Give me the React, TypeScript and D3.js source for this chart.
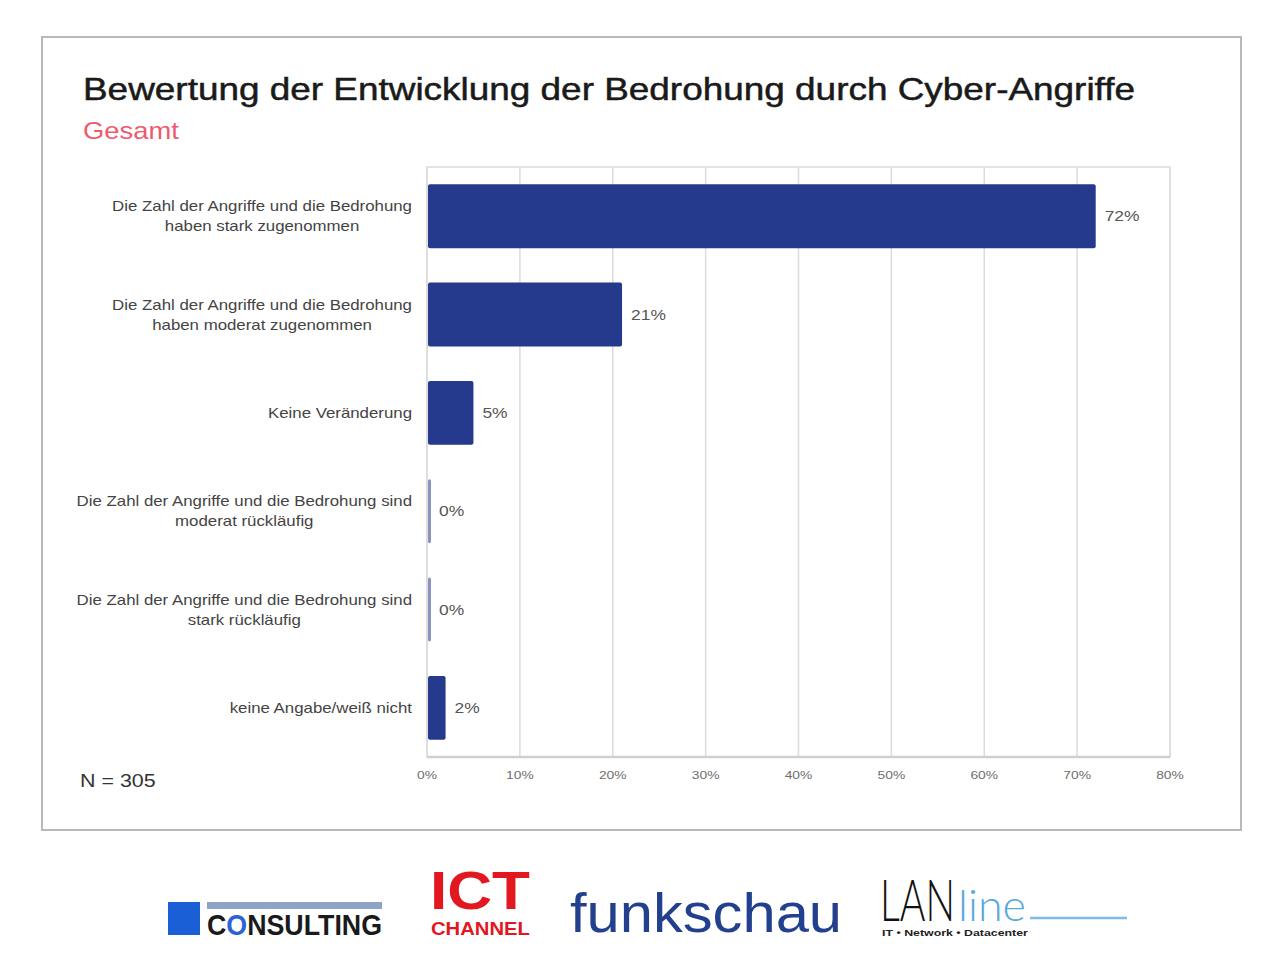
import React, { useEffect, useRef } from "react";
import * as d3 from "d3";

const titleText = "Bewertung der Entwicklung der Bedrohung durch Cyber-Angriffe";
const subtitleText = "Gesamt";
const noteText = "N = 305";

const categories: string[][] = [
  ["Die Zahl der Angriffe und die Bedrohung", "haben stark zugenommen"],
  ["Die Zahl der Angriffe und die Bedrohung", "haben moderat zugenommen"],
  ["Keine Veränderung"],
  ["Die Zahl der Angriffe und die Bedrohung sind", "moderat rückläufig"],
  ["Die Zahl der Angriffe und die Bedrohung sind", "stark rückläufig"],
  ["keine Angabe/weiß nicht"],
];
const values = [72, 21, 5, 0, 0, 2];
const valueLabels = ["72%", "21%", "5%", "0%", "0%", "2%"];
const tickValues = [0, 10, 20, 30, 40, 50, 60, 70, 80];
const tickLabels = ["0%", "10%", "20%", "30%", "40%", "50%", "60%", "70%", "80%"];

const W = 1280;
const H = 978;
const plot = { left: 427, right: 1170, top: 167, bottom: 757 };
const FONT = "'Liberation Sans', Arial, Helvetica, sans-serif";
const STRETCH = 1.17;

type Sel = d3.Selection<SVGTextElement, any, any, any>;
function stretch(t: Sel, f = STRETCH) {
  t.each(function () {
    const n = this as SVGTextElement;
    const w = n.getComputedTextLength();
    d3.select(n).attr("textLength", w * f).attr("lengthAdjust", "spacingAndGlyphs");
  });
  return t;
}

export default function App() {
  const ref = useRef<SVGSVGElement | null>(null);

  useEffect(() => {
    const svg = d3.select(ref.current);
    svg.selectAll("*").remove();

    svg.append("rect").attr("x", 0).attr("y", 0).attr("width", W).attr("height", H).attr("fill", "#fff");
    svg.append("rect")
      .attr("x", 42).attr("y", 37).attr("width", 1199).attr("height", 793)
      .attr("fill", "#fff").attr("stroke", "#b9b9b9").attr("stroke-width", 2);

    // title
    svg.append("text").attr("x", 83).attr("y", 100)
      .attr("font-family", FONT).attr("font-size", 31.5).attr("fill", "#1a1a1a")
      .attr("stroke", "#1a1a1a").attr("stroke-width", 0.5)
      .attr("textLength", 1052).attr("lengthAdjust", "spacingAndGlyphs")
      .text(titleText);
    stretch(svg.append("text").attr("x", 83).attr("y", 139)
      .attr("font-family", FONT).attr("font-size", 24).attr("fill", "#ee5a6e")
      .text(subtitleText) as any, 1.14);

    const x = d3.scaleLinear().domain([0, 80]).range([plot.left, plot.right]);
    const y = d3.scaleBand<number>()
      .domain(d3.range(categories.length))
      .range([plot.top, plot.bottom])
      .paddingInner(0.35).paddingOuter(0.175);

    const g = svg.append("g");
    g.append("rect")
      .attr("x", plot.left).attr("y", plot.top)
      .attr("width", plot.right - plot.left).attr("height", plot.bottom - plot.top)
      .attr("fill", "none").attr("stroke", "#dcdcdc").attr("stroke-width", 1.5);
    g.selectAll("line.grid").data(tickValues).join("line")
      .attr("class", "grid")
      .attr("x1", (d) => x(d)).attr("x2", (d) => x(d))
      .attr("y1", plot.top).attr("y2", plot.bottom)
      .attr("stroke", "#dcdcdc").attr("stroke-width", 1.5);
    g.append("line")
      .attr("x1", plot.left).attr("x2", plot.right)
      .attr("y1", plot.bottom).attr("y2", plot.bottom)
      .attr("stroke", "#cfcfcf").attr("stroke-width", 2.5);

    // tick labels
    stretch(g.selectAll("text.tick").data(tickValues).join("text")
      .attr("class", "tick")
      .attr("x", (d) => x(d)).attr("y", 779)
      .attr("text-anchor", "middle")
      .attr("font-family", FONT).attr("font-size", 11.5).attr("fill", "#6e6e6e")
      .text((_, i) => tickLabels[i]) as any, 1.2);

    // bars
    g.selectAll("rect.bar").data(values).join("rect")
      .attr("class", "bar")
      .attr("x", x(0) + 1)
      .attr("y", (_, i) => y(i)!)
      .attr("height", y.bandwidth())
      .attr("width", (d) => Math.max(x(d) - x(0) - 1, 3))
      .attr("rx", 2)
      .attr("fill", (d) => (d === 0 ? "#8a93c4" : "#253a8c"));

    // value labels
    stretch(g.selectAll("text.val").data(values).join("text")
      .attr("class", "val")
      .attr("x", (d) => Math.max(x(d), x(0) + 3) + 9)
      .attr("y", (_, i) => y(i)! + y.bandwidth() / 2 + 5)
      .attr("font-family", FONT).attr("font-size", 14.5).attr("fill", "#555")
      .text((_, i) => valueLabels[i]) as any, 1.2);

    // category labels
    categories.forEach((lines, i) => {
      const cy = y(i)! + y.bandwidth() / 2;
      const grp = g.append("g");
      const texts = lines.map((ln, j) =>
        grp.append("text")
          .attr("x", 0)
          .attr("y", cy + 5 + (j - (lines.length - 1) / 2) * 20)
          .attr("text-anchor", "middle")
          .attr("font-family", FONT).attr("font-size", 14.5).attr("fill", "#444")
          .text(ln)
      );
      const widths = texts.map((t) => (t.node() as SVGTextElement).getComputedTextLength() * 1.16);
      const maxW = d3.max(widths) || 0;
      texts.forEach((t, j) =>
        t.attr("x", 412 - maxW / 2).attr("textLength", widths[j]).attr("lengthAdjust", "spacingAndGlyphs")
      );
    });

    // N note
    stretch(svg.append("text").attr("x", 80).attr("y", 787)
      .attr("font-family", FONT).attr("font-size", 18).attr("fill", "#333")
      .text(noteText) as any, 1.19);

    // ---- logos ----
    const logos = svg.append("g");
    logos.append("rect").attr("x", 168).attr("y", 902).attr("width", 32).attr("height", 33).attr("fill", "#1b5fd6");
    logos.append("rect").attr("x", 207).attr("y", 902).attr("width", 175).attr("height", 7).attr("fill", "#8ea3c6");
    const cons = logos.append("text").attr("x", 207).attr("y", 935)
      .attr("font-family", FONT).attr("font-weight", "bold").attr("font-size", 30)
      .attr("textLength", 175).attr("lengthAdjust", "spacingAndGlyphs").attr("fill", "#1a1a1a");
    cons.append("tspan").text("C");
    cons.append("tspan").attr("fill", "#2a62d8").text("O");
    cons.append("tspan").text("NSULTING");

    logos.append("text").attr("x", 430).attr("y", 909)
      .attr("font-family", FONT).attr("font-weight", "bold").attr("font-size", 54)
      .attr("textLength", 100).attr("lengthAdjust", "spacingAndGlyphs").attr("fill", "#e3171f")
      .text("ICT");
    logos.append("text").attr("x", 431).attr("y", 935)
      .attr("font-family", FONT).attr("font-weight", "bold").attr("font-size", 19)
      .attr("textLength", 99).attr("lengthAdjust", "spacingAndGlyphs").attr("fill", "#e3171f")
      .text("CHANNEL");

    logos.append("text").attr("x", 570).attr("y", 932)
      .attr("font-family", FONT).attr("font-size", 56)
      .attr("textLength", 272).attr("lengthAdjust", "spacingAndGlyphs").attr("fill", "#23408e")
      .text("funkschau");

    // LANline: horizontally scaled groups so boxes match the drawn glyphs
    const fitText = (txt: string, x0: number, y0: number, targetW: number, size: number, fill: string, family: string, weight: any) => {
      const grp = logos.append("g");
      const t = grp.append("text").attr("x", 0).attr("y", 0)
        .attr("font-family", family).attr("font-weight", weight).attr("font-size", size)
        .attr("fill", fill).text(txt);
      const w = (t.node() as SVGTextElement).getComputedTextLength() || targetW;
      grp.attr("transform", `translate(${x0},${y0}) scale(${targetW / w},1)`);
    };
    fitText("LAN", 880, 921, 75, 58, "#111", "Lato, 'Open Sans', sans-serif", 300);
    fitText("line", 958, 921, 68, 44, "#5aa8dc", "Lato, 'Open Sans', sans-serif", 300);
    fitText("IT • Network • Datacenter", 882, 936, 146, 9, "#222", FONT, "bold");
    logos.append("line").attr("x1", 1030).attr("x2", 1127).attr("y1", 918).attr("y2", 918)
      .attr("stroke", "#7dbde6").attr("stroke-width", 2.5);
  }, []);

  return (
    <svg
      ref={ref}
      width={W}
      height={H}
      style={{ position: "absolute", left: 0, top: 0, display: "block" }}
    />
  );
}
